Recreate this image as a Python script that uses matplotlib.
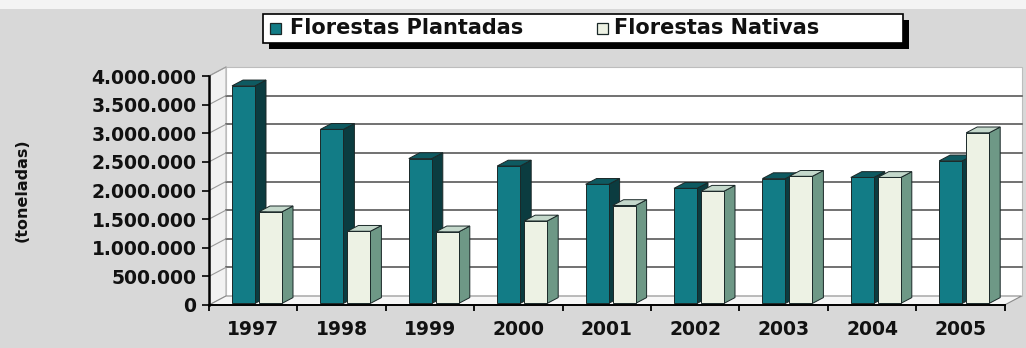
import numpy as np
import matplotlib
matplotlib.use('Agg')
import matplotlib.pyplot as plt
from matplotlib.patches import Polygon, Rectangle
from matplotlib import patheffects

# data (toneladas)
years = ['1997', '1998', '1999', '2000', '2001', '2002', '2003', '2004', '2005']
plantadas = [3800000, 3040000, 2530000, 2400000, 2080000, 2010000, 2180000, 2200000, 2490000]
nativas = [1600000, 1260000, 1250000, 1440000, 1710000, 1960000, 2220000, 2200000, 2980000]
yticks = [0, 500000, 1000000, 1500000, 2000000, 2500000, 3000000, 3500000, 4000000]
series_names = ['Florestas Plantadas', 'Florestas Nativas']

# colours
teal_front = '#127c86'
teal_side = '#0b3c40'
teal_top = '#0e5a61'
nat_front = '#edf2e4'
nat_side = '#6e9886'
nat_top = '#c4d8cb'
edge = '#1a2828'

# pixel geometry of the original, turned into data units
W_PX, H_PX = 1026, 348
cat_px = 88.4            # px per category
mil_px = 57.25           # px per 1.000.000
DXW, DYW = 17 / cat_px, 9 / mil_px * 1e6     # wall depth
DXB, DYB = 11 / cat_px, 5.8 / mil_px * 1e6   # bar depth
SX, SY = (DXW - DXB) / 2, (DYW - DYB) / 2
BW = 23 / cat_px
GAP = 4 / cat_px
OFF = 20 / cat_px

fig = plt.figure(figsize=(W_PX / 100, H_PX / 100), dpi=100, facecolor='#d8d8d8')
fig.patches.append(Rectangle((0, 1 - 9 / H_PX), 1, 9 / H_PX, transform=fig.transFigure,
                             facecolor='#f4f4f4', edgecolor='none', zorder=0))

ax = fig.add_axes([209 / W_PX, (H_PX - 305) / H_PX, (W_PX - 209) / W_PX, 245 / H_PX])
ax.set_facecolor('none')
ymax = 245 / mil_px * 1e6
xmax = (W_PX - 209) / cat_px
ax.set_xlim(0, xmax)
ax.set_ylim(0, ymax)
n = len(years)
top = yticks[-1]

# side wall, back wall and floor
ax.add_patch(Polygon([(0, 0), (DXW, DYW), (DXW, top + DYW), (0, top)],
                     closed=True, facecolor='#f2f2f2', edgecolor='#b0b0b0', lw=0.8, zorder=1))
ax.add_patch(Polygon([(DXW, DYW), (n + DXW, DYW), (n + DXW, top + DYW), (DXW, top + DYW)],
                     closed=True, facecolor='white', edgecolor='#bdbdbd', lw=0.8, zorder=1))
ax.add_patch(Polygon([(0, 0), (n, 0), (n + DXW, DYW), (DXW, DYW)],
                     closed=True, facecolor='#f7f7f7', edgecolor='#8a8a8a', lw=0.8, zorder=1))

# gridlines on back wall + short lines on the side wall
for v in yticks[1:-1]:
    ax.plot([DXW, n + DXW], [v + DYW, v + DYW], color='#4a4a4a', lw=1.1, zorder=2)
for v in yticks[1:]:
    ax.plot([0, DXW], [v, v + DYW], color='#9a9a9a', lw=0.8, zorder=2)


def draw_bar(x, v, front, side, topc):
    x0 = x + SX
    ax.add_patch(Polygon([(x0 + BW, SY), (x0 + BW + DXB, SY + DYB),
                          (x0 + BW + DXB, SY + v + DYB), (x0 + BW, SY + v)],
                         closed=True, facecolor=side, edgecolor=edge, lw=0.7, zorder=3))
    ax.add_patch(Polygon([(x0, SY + v), (x0 + BW, SY + v),
                          (x0 + BW + DXB, SY + v + DYB), (x0 + DXB, SY + v + DYB)],
                         closed=True, facecolor=topc, edgecolor=edge, lw=0.7, zorder=3))
    ax.bar(x0, v, width=BW, bottom=SY, align='edge', color=front,
           edgecolor=edge, linewidth=0.7, zorder=3)


for i in range(n):
    draw_bar(i + OFF, plantadas[i], teal_front, teal_side, teal_top)
    draw_bar(i + OFF + BW + GAP, nativas[i], nat_front, nat_side, nat_top)

# axes, ticks and labels
for s in ['top', 'right']:
    ax.spines[s].set_visible(False)
ax.spines['left'].set_bounds(0, top)
ax.spines['left'].set_linewidth(1.8)
ax.spines['bottom'].set_bounds(0, n)
ax.spines['bottom'].set_linewidth(1.4)
ax.spines['left'].set_zorder(4)
ax.spines['bottom'].set_zorder(4)

ax.set_yticks(yticks)
ax.set_yticklabels([f'{v:,}'.replace(',', '.') for v in yticks])
ax.tick_params(axis='y', length=5, width=1.3, pad=4, labelsize=13.5, colors='#111111')
ax.set_xticks(np.arange(n) + 0.5)
ax.set_xticklabels(years)
ax.set_xticks(np.arange(n + 1), minor=True)
ax.tick_params(axis='x', which='major', length=0, pad=11, labelsize=13.5, colors='#111111')
ax.tick_params(axis='x', which='minor', length=4, width=1.3, direction='out')
for lab in ax.get_xticklabels() + ax.get_yticklabels():
    lab.set_fontweight('bold')

fig.text(22 / W_PX, 1 - 190 / H_PX, '(toneladas)', rotation=90, ha='center', va='center',
         fontsize=11.5, fontweight='bold', color='#111111')

# legend box with hard shadow, laid out like the original
def px(x, y):
    return x / W_PX, 1 - y / H_PX

box = Rectangle(px(263, 43), 640 / W_PX, 29 / H_PX, transform=fig.transFigure,
                facecolor='white', edgecolor='black', lw=1.2, zorder=5)
box.set_path_effects([patheffects.SimplePatchShadow(offset=(4, -4), shadow_rgbFace='black', alpha=1),
                      patheffects.Normal()])
fig.patches.append(box)
for (hx, tx), col, name in zip([(270, 290), (597, 614)], [teal_front, nat_front], series_names):
    fig.patches.append(Rectangle(px(hx, 34), 11 / W_PX, 11 / H_PX, transform=fig.transFigure,
                                 facecolor=col, edgecolor=edge, lw=0.9, zorder=6))
    fig.text(*px(tx, 28.5), name, ha='left', va='center', fontsize=15, fontweight='bold',
             color='#111111', zorder=6)

fig.savefig('out.png', dpi=100, facecolor=fig.get_facecolor())
